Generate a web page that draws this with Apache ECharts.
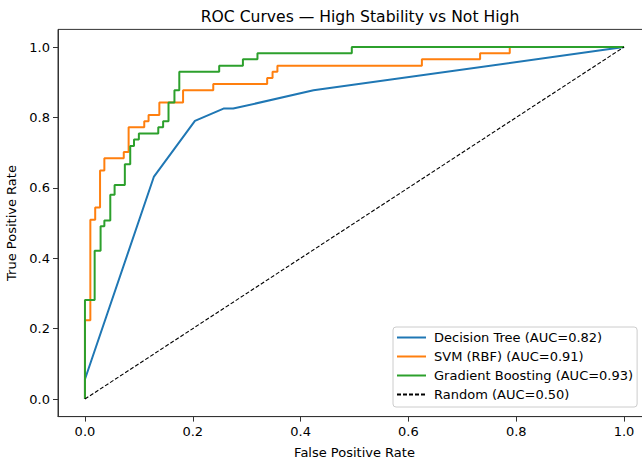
<!DOCTYPE html>
<html>
<head>
<meta charset="utf-8">
<script src="https://cdn.jsdelivr.net/npm/echarts@6/dist/echarts.min.js"></script>
<style>
html,body{margin:0;padding:0;background:#fff;}
#chart{width:642px;height:460px;}
</style>
</head>
<body>
<div id="chart"></div>
<script>
// Data (FPR, TPR)
const titleText = 'ROC Curves \u2014 High Stability vs Not High';
const tickValues = [0, 0.2, 0.4, 0.6, 0.8, 1.0];

const seriesNames = [
  'Decision Tree (AUC=0.82)',
  'SVM (RBF) (AUC=0.91)',
  'Gradient Boosting (AUC=0.93)',
  'Random (AUC=0.50)'
];

const decisionTree = [
  [0, 0], [0, 0.056], [0.128, 0.632], [0.204, 0.79], [0.257, 0.825],
  [0.275, 0.825], [0.424, 0.877], [1, 1]
];

const svmRbf = [
  [0, 0], [0, 0.224], [0.010, 0.224], [0.010, 0.509], [0.019, 0.509],
  [0.019, 0.544], [0.028, 0.544], [0.028, 0.649], [0.036, 0.649],
  [0.036, 0.684], [0.072, 0.684], [0.072, 0.702], [0.081, 0.702],
  [0.081, 0.772], [0.110, 0.772], [0.110, 0.789], [0.118, 0.789],
  [0.118, 0.807], [0.138, 0.807], [0.138, 0.842], [0.182, 0.842],
  [0.182, 0.877], [0.238, 0.877], [0.238, 0.895], [0.338, 0.895],
  [0.338, 0.912], [0.348, 0.912], [0.348, 0.930], [0.357, 0.930],
  [0.357, 0.947], [0.625, 0.947], [0.625, 0.965], [0.733, 0.965],
  [0.733, 0.982], [0.788, 0.982], [0.788, 1.0], [1, 1]
];

const gradientBoosting = [
  [0, 0], [0, 0.281], [0.018, 0.281], [0.018, 0.421], [0.029, 0.421],
  [0.029, 0.491], [0.036, 0.491], [0.036, 0.507], [0.047, 0.507],
  [0.047, 0.580], [0.055, 0.580], [0.055, 0.608], [0.074, 0.608],
  [0.074, 0.667], [0.084, 0.667], [0.084, 0.719], [0.091, 0.719],
  [0.091, 0.737], [0.100, 0.737], [0.100, 0.754], [0.136, 0.754],
  [0.136, 0.772], [0.145, 0.772], [0.145, 0.789], [0.155, 0.789],
  [0.155, 0.842], [0.166, 0.842], [0.166, 0.877], [0.175, 0.877],
  [0.175, 0.930], [0.249, 0.930], [0.249, 0.947], [0.293, 0.947],
  [0.293, 0.965], [0.320, 0.965], [0.320, 0.982], [0.495, 0.982],
  [0.495, 1.0], [1, 1]
];

const randomLine = [[0, 0], [1, 1]];

const colors = ['#1f77b4', '#ff7f0e', '#2ca02c', '#000000'];
const FONT = 'DejaVu Sans';

const chart = echarts.init(document.getElementById('chart'), null, {renderer: 'svg'});

function lineSeries(name, data, color, width, type) {
  return {
    name: name,
    type: 'line',
    data: data,
    symbol: 'none',
    showSymbol: false,
    animation: false,
    clip: true,
    lineStyle: {color: color, width: width, type: type || 'solid'},
    itemStyle: {color: color}
  };
}

const option = {
  animation: false,
  backgroundColor: '#fff',
  textStyle: {fontFamily: FONT},
  title: {
    text: titleText,
    left: 355,
    top: 4,
    textAlign: 'center',
    textStyle: {fontFamily: FONT, fontSize: 15.6, fontWeight: 'normal', color: '#000'}
  },
  grid: {
    left: 58, top: 29.4, width: 593, height: 387.2,
    outerBoundsMode: 'none',
    show: true, borderColor: '#333', borderWidth: 1, containLabel: false
  },
  legend: {
    orient: 'vertical',
    left: 393, top: 327,
    data: seriesNames,
    itemWidth: 29, itemHeight: 14, itemGap: 6,
    padding: [4, 4, 6, 3],
    backgroundColor: 'rgba(255,255,255,0.8)',
    borderColor: '#cccccc', borderWidth: 1, borderRadius: 3,
    itemStyle: {opacity: 0, borderWidth: 0},
    textStyle: {fontFamily: FONT, fontSize: 13, color: '#000', padding: [0, 0, 0, 3]},
    selectedMode: false
  },
  xAxis: {
    type: 'value',
    min: -0.05, max: 1.05,
    name: 'False Positive Rate',
    nameLocation: 'middle',
    nameGap: 29,
    nameTextStyle: {fontFamily: FONT, fontSize: 13, color: '#000'},
    axisLine: {show: true, onZero: false, lineStyle: {color: '#333', width: 1}},
    axisTick: {show: true, length: 5, lineStyle: {color: '#333'}, customValues: tickValues},
    axisLabel: {
      show: true, margin: 8, fontFamily: FONT, fontSize: 13, color: '#000',
      customValues: tickValues,
      formatter: v => v.toFixed(1)
    },
    splitLine: {show: false}
  },
  yAxis: {
    type: 'value',
    min: -0.05, max: 1.05,
    name: 'True Positive Rate',
    nameLocation: 'middle',
    nameGap: 31,
    nameTextStyle: {fontFamily: FONT, fontSize: 13, color: '#000'},
    axisLine: {show: true, onZero: false, lineStyle: {color: '#333', width: 1}},
    axisTick: {show: true, length: 5, lineStyle: {color: '#333'}, customValues: tickValues},
    axisLabel: {
      show: true, margin: 8, fontFamily: FONT, fontSize: 13, color: '#000',
      customValues: tickValues,
      formatter: v => v.toFixed(1)
    },
    splitLine: {show: false}
  },
  series: [
    lineSeries(seriesNames[0], decisionTree, colors[0], 2),
    lineSeries(seriesNames[1], svmRbf, colors[1], 2),
    lineSeries(seriesNames[2], gradientBoosting, colors[2], 2),
    lineSeries(seriesNames[3], randomLine, colors[3], 1.1, [4, 2])
  ]
};

chart.setOption(option);
</script>
</body>
</html>
